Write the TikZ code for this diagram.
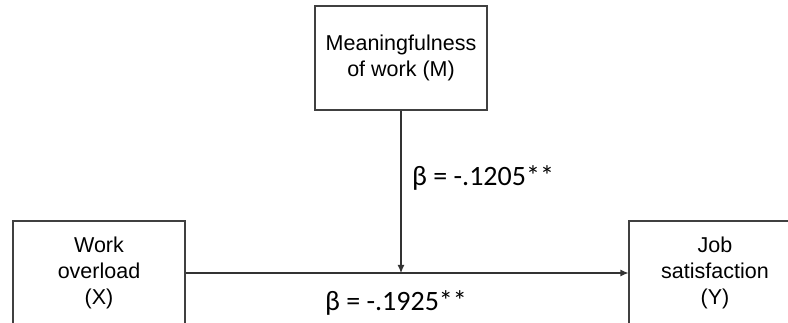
\documentclass[tikz,border=0pt]{standalone}
\usepackage{fontspec}
\setmainfont{Liberation Sans}
\newfontfamily\betafont{Carlito}
\usetikzlibrary{arrows.meta}
\begin{document}
\begin{tikzpicture}[x=1pt,y=1pt,
    varbox/.style={draw=black!75, line width=1.1pt, minimum width=172pt, minimum height=104pt,
        inner sep=0pt, align=center, font=\fontsize{21.5}{26}\selectfont},
    path/.style={draw=black!80, line width=1.1pt, -{Latex[length=8pt,width=7pt]}},
    coef/.style={font=\betafont\fontsize{28}{32}\selectfont, inner sep=0pt}]
    \useasboundingbox (0,0) rectangle (788,323);
    \clip (0,0) rectangle (788,323);
    % define boxes
    \node[varbox] (M) at (401,265) {Meaningfulness\\of work (M)};
    \node[varbox] (X) at (99,50)   {Work\\overload\\(X)};
    \node[varbox] (Y) at (715,50)  {Job\\satisfaction\\(Y)};
    \coordinate (P) at (M.south |- X.east);
    % paths
    \draw[path] (X.east) -- (Y.west);
    \draw[path] (M.south) -- (P);
    \node[coef, anchor=west] (b1) at (412,145) {β = -.1205**};
    \node[coef] (b2) at (396,20) {β = -.1925**};
\end{tikzpicture}
\end{document}
